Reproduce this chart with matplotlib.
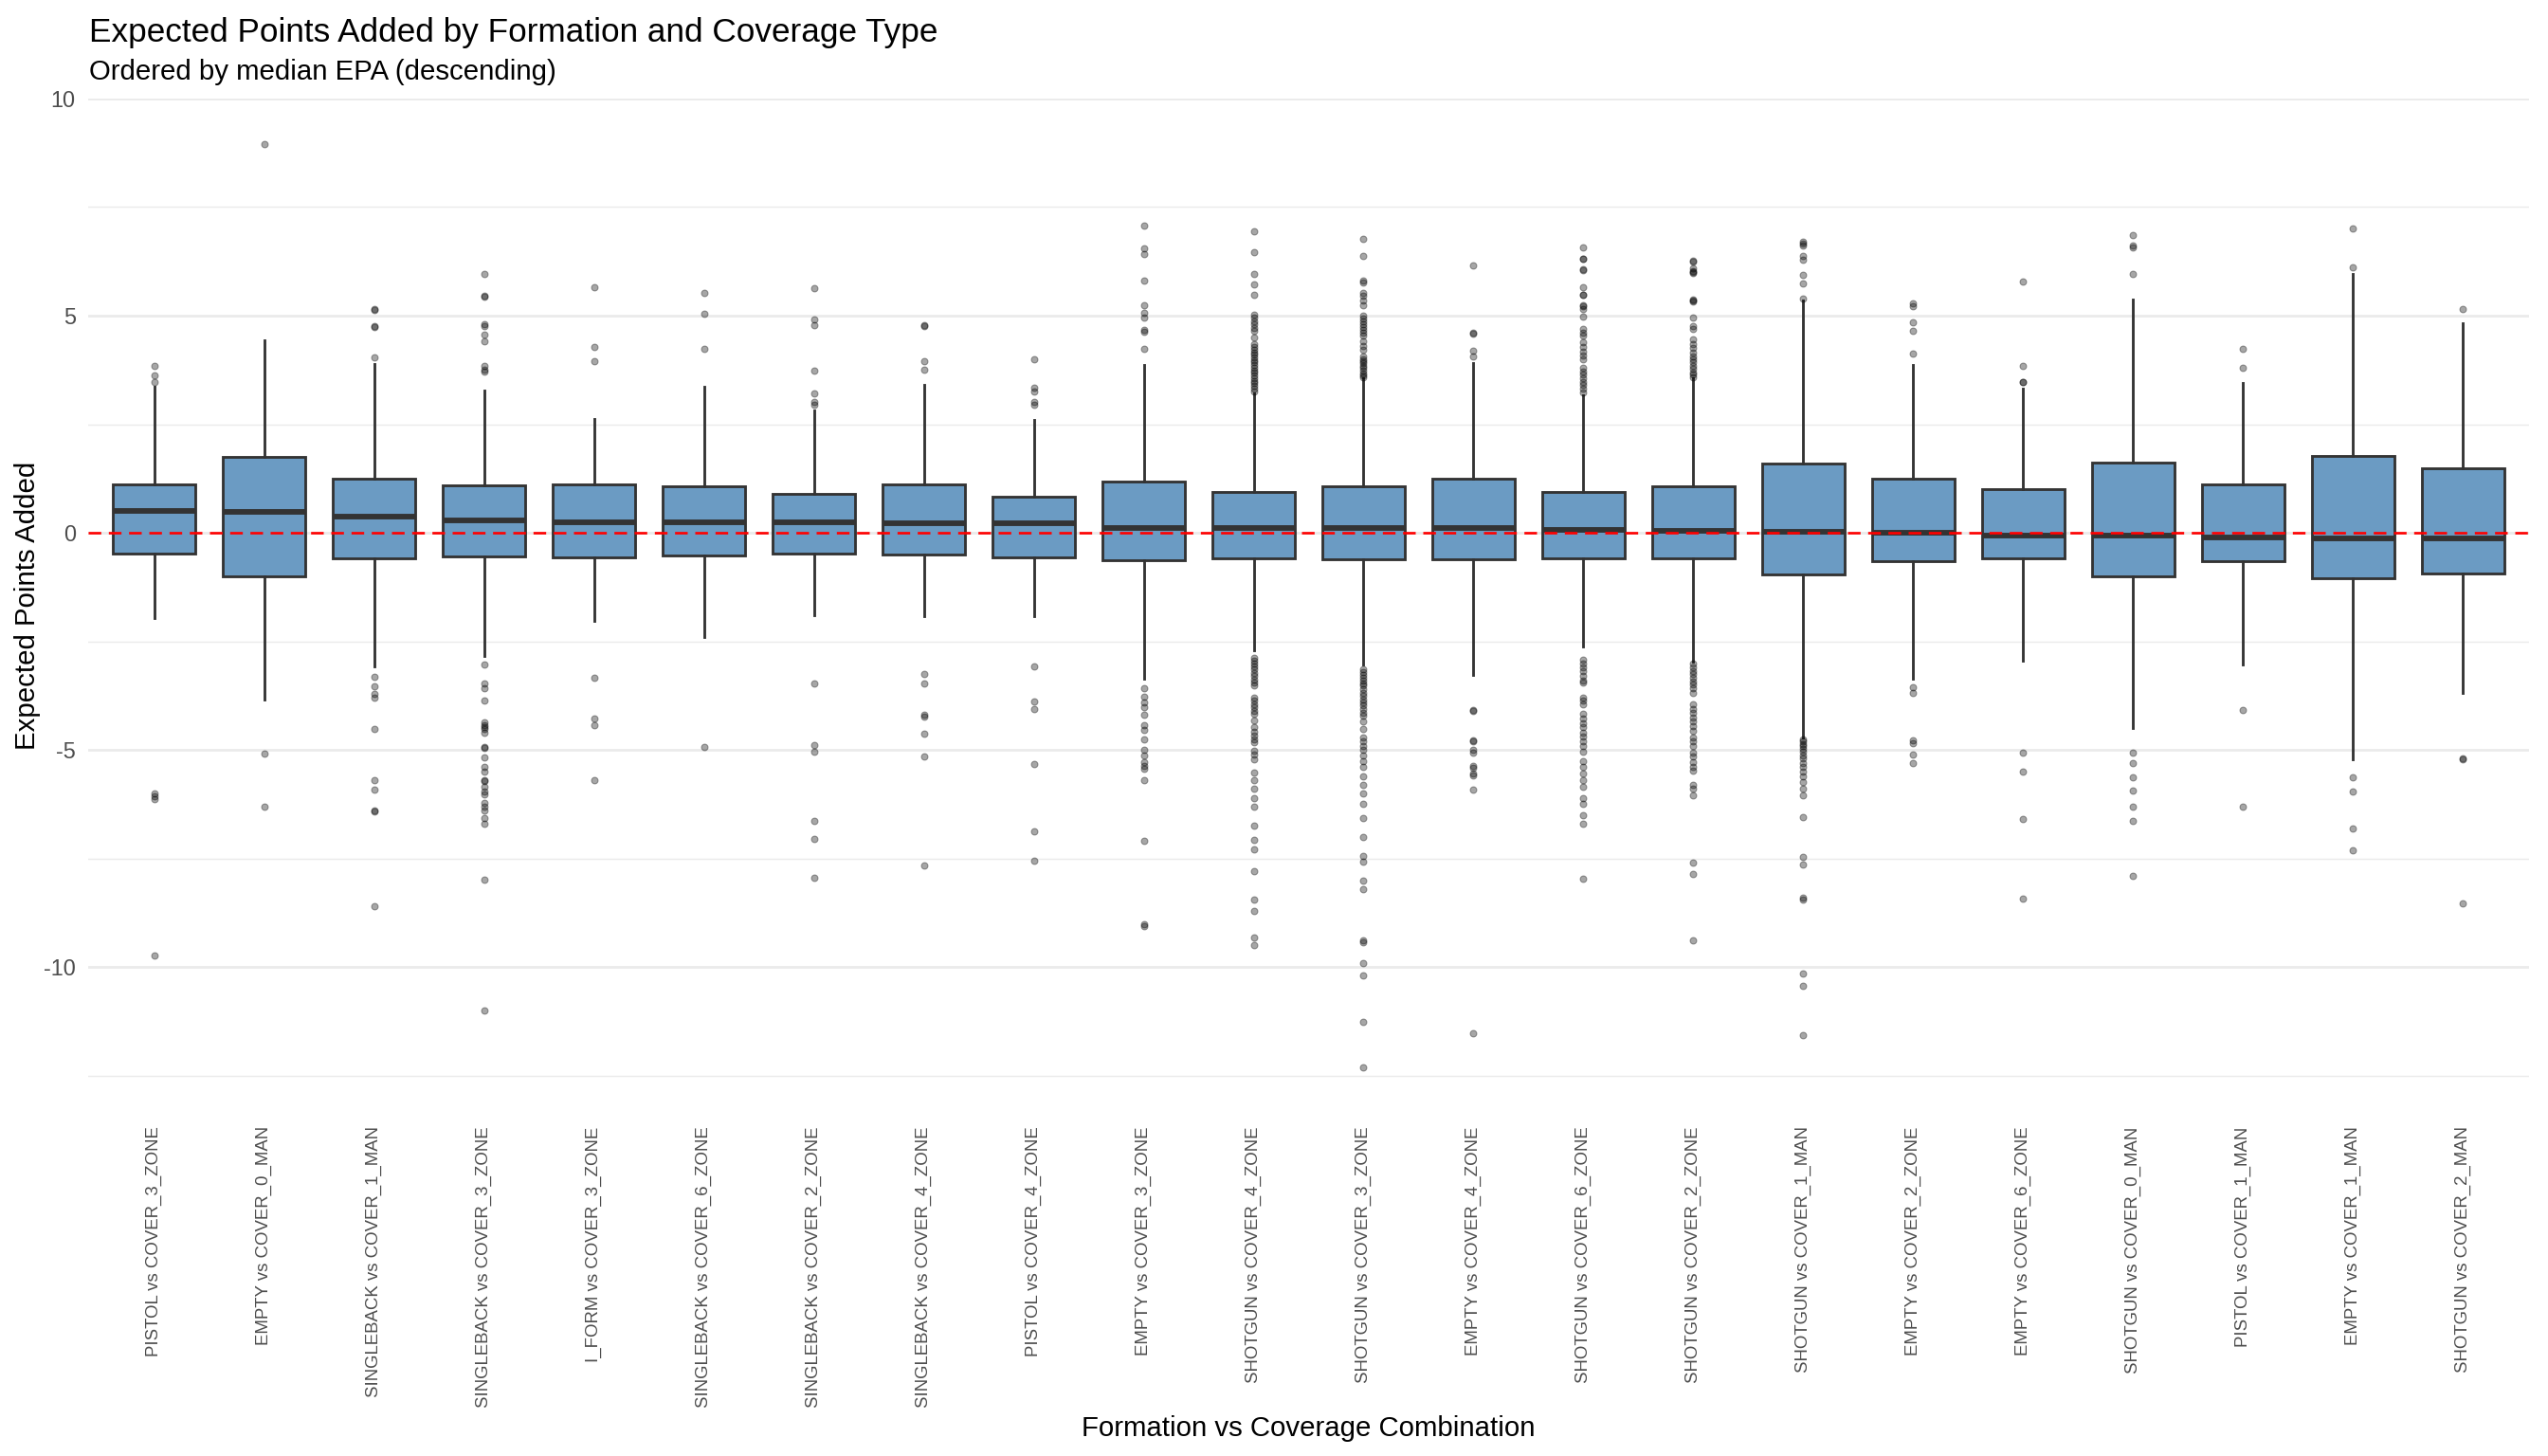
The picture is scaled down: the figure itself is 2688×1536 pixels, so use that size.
import matplotlib
matplotlib.use("Agg")
import matplotlib.pyplot as plt
from matplotlib.ticker import MultipleLocator

plt.rcParams["font.family"] = ["Liberation Sans", "DejaVu Sans"]
plt.rcParams["axes.unicode_minus"] = False

# ---- data ----
categories = [
    "PISTOL vs COVER_3_ZONE", "EMPTY vs COVER_0_MAN", "SINGLEBACK vs COVER_1_MAN",
    "SINGLEBACK vs COVER_3_ZONE", "I_FORM vs COVER_3_ZONE", "SINGLEBACK vs COVER_6_ZONE",
    "SINGLEBACK vs COVER_2_ZONE", "SINGLEBACK vs COVER_4_ZONE", "PISTOL vs COVER_4_ZONE",
    "EMPTY vs COVER_3_ZONE", "SHOTGUN vs COVER_4_ZONE", "SHOTGUN vs COVER_3_ZONE",
    "EMPTY vs COVER_4_ZONE", "SHOTGUN vs COVER_6_ZONE", "SHOTGUN vs COVER_2_ZONE",
    "SHOTGUN vs COVER_1_MAN", "EMPTY vs COVER_2_ZONE", "EMPTY vs COVER_6_ZONE",
    "SHOTGUN vs COVER_0_MAN", "PISTOL vs COVER_1_MAN", "EMPTY vs COVER_1_MAN",
    "SHOTGUN vs COVER_2_MAN",
]

q1 = [-0.48, -1.01, -0.59, -0.55, -0.56, -0.53, -0.48, -0.51, -0.57, -0.64, -0.58,
      -0.61, -0.61, -0.58, -0.58, -0.95, -0.66, -0.59, -1.01, -0.65, -1.04, -0.94]
medians = [0.50, 0.48, 0.38, 0.29, 0.24, 0.24, 0.24, 0.22, 0.21, 0.12, 0.12,
           0.12, 0.12, 0.07, 0.04, 0.03, 0.00, -0.07, -0.07, -0.11, -0.13, -0.13]
q3 = [1.11, 1.75, 1.24, 1.10, 1.12, 1.07, 0.90, 1.11, 0.84, 1.19, 0.94,
      1.08, 1.24, 0.95, 1.08, 1.59, 1.25, 1.01, 1.61, 1.12, 1.77, 1.49]
whisker_low = [-1.97, -3.83, -3.08, -2.83, -2.03, -2.39, -1.90, -1.93, -1.93, -3.37, -2.70,
               -3.04, -3.28, -2.62, -2.97, -4.71, -3.35, -2.95, -4.50, -3.04, -5.21, -3.68]
whisker_high = [3.37, 4.44, 3.88, 3.28, 2.63, 3.37, 2.82, 3.40, 2.60, 3.86, 3.21,
                3.56, 3.91, 3.17, 3.56, 5.36, 3.86, 3.32, 5.37, 3.45, 5.97, 4.83]

outliers = [
    [3.84, 3.63, 3.48, -6.01, -6.06, -6.13, -9.74],
    [8.95, -5.09, -6.31],
    [5.16, 5.13, 4.76, 4.74, 4.04, -3.31, -3.54, -3.70, -3.80, -4.51, -5.70, -5.92,
     -6.40, -6.42, -8.60],
    [5.97, 5.46, 5.44, 4.81, 4.76, 4.57, 4.41, 3.84, 3.75, 3.72, -3.03, -3.47, -3.58,
     -3.87, -4.37, -4.42, -4.47, -4.52, -4.60, -4.93, -4.96, -5.18, -5.39, -5.51,
     -5.70, -5.72, -5.85, -5.95, -6.02, -6.22, -6.30, -6.40, -6.58, -6.71, -7.98, -11.0],
    [5.65, 4.28, 3.95, -3.33, -4.27, -4.42, -5.69],
    [5.53, 5.05, 4.23, -4.93],
    [5.63, 4.92, 4.79, 3.74, 3.20, 3.02, 2.95, -3.48, -4.89, -5.04, -6.64, -7.04, -7.95],
    [4.79, 4.77, 3.95, 3.75, -3.26, -3.48, -4.20, -4.23, -4.63, -5.15, -7.66],
    [4.00, 3.35, 3.25, 3.02, 2.95, -3.08, -3.88, -4.06, -5.32, -6.88, -7.56],
    [7.07, 6.56, 6.41, 5.80, 5.25, 5.07, 4.96, 4.67, 4.62, 4.23, -3.58, -3.78, -3.90,
     -4.02, -4.20, -4.42, -4.54, -4.75, -5.00, -5.12, -5.28, -5.36, -5.44, -5.69,
     -7.10, -9.02, -9.06],
    [6.95, 6.47, 5.95, 5.71, 5.49, 5.02, 4.96, 4.88, 4.80, 4.72, 4.65, 4.50, 4.34,
     4.28, 4.22, 4.15, 4.10, 4.05, 3.98, 3.92, 3.86, 3.80, 3.73, 3.68, 3.62, 3.56,
     3.50, 3.44, 3.38, 3.32, 3.26, -2.87, -2.95, -3.02, -3.08, -3.15, -3.22, -3.30,
     -3.38, -3.45, -3.52, -3.79, -3.86, -3.94, -4.02, -4.10, -4.17, -4.33, -4.48,
     -4.58, -4.68, -4.76, -4.83, -5.02, -5.10, -5.21, -5.52, -5.70, -5.90, -6.10,
     -6.30, -6.74, -7.08, -7.28, -7.79, -8.45, -8.71, -9.31, -9.49],
    [6.76, 6.38, 5.80, 5.76, 5.53, 5.45, 5.36, 5.23, 5.01, 4.94, 4.88, 4.81, 4.74,
     4.67, 4.61, 4.54, 4.41, 4.30, 4.21, 4.07, 4.00, 3.95, 3.90, 3.84, 3.79, 3.73,
     3.67, 3.62, 3.58, -3.14, -3.20, -3.27, -3.33, -3.40, -3.46, -3.52, -3.60, -3.68,
     -3.75, -3.83, -3.90, -3.98, -4.06, -4.14, -4.21, -4.35, -4.52, -4.71, -4.80,
     -4.90, -5.00, -5.13, -5.25, -5.40, -5.60, -5.80, -6.00, -6.25, -6.58, -7.00,
     -7.44, -7.57, -8.00, -8.20, -9.38, -9.42, -9.90, -10.20, -11.26, -12.32],
    [6.16, 4.60, 4.58, 4.20, 4.07, -4.07, -4.10, -4.78, -4.81, -5.00, -5.07, -5.37,
     -5.41, -5.55, -5.58, -5.92, -11.53],
    [6.57, 6.32, 6.31, 6.06, 6.05, 5.66, 5.49, 5.48, 5.23, 5.22, 5.15, 4.97, 4.69,
     4.60, 4.54, 4.38, 4.28, 4.18, 4.08, 4.00, 3.80, 3.72, 3.64, 3.56, 3.48, 3.40,
     3.32, 3.23, -2.93, -3.02, -3.10, -3.18, -3.29, -3.40, -3.45, -3.79, -3.86, -3.94,
     -4.17, -4.28, -4.38, -4.48, -4.60, -4.70, -4.80, -4.90, -5.04, -5.26, -5.40,
     -5.55, -5.70, -5.85, -6.10, -6.24, -6.50, -6.70, -7.97],
    [6.26, 6.25, 6.10, 6.03, 6.00, 5.99, 5.38, 5.35, 5.32, 4.95, 4.75, 4.70, 4.46,
     4.35, 4.25, 4.15, 4.07, 4.00, 3.92, 3.85, 3.77, 3.70, 3.64, 3.58, -3.02, -3.10,
     -3.18, -3.26, -3.34, -3.42, -3.50, -3.58, -3.68, -3.94, -4.05, -4.15, -4.25,
     -4.35, -4.45, -4.56, -4.71, -4.80, -4.90, -5.06, -5.15, -5.28, -5.40, -5.48,
     -5.80, -5.90, -6.05, -7.60, -7.85, -9.38],
    [6.70, 6.67, 6.62, 6.37, 6.28, 5.93, 5.74, 5.40, -4.75, -4.80, -4.86, -4.92,
     -4.98, -5.05, -5.12, -5.20, -5.30, -5.40, -5.50, -5.60, -5.75, -5.90, -6.05,
     -6.55, -7.47, -7.63, -8.40, -8.45, -10.16, -10.43, -11.56],
    [5.28, 5.21, 4.84, 4.66, 4.12, -3.55, -3.69, -4.77, -4.84, -5.10, -5.31],
    [5.79, 3.85, 3.48, 3.47, -5.06, -5.50, -6.60, -8.43],
    [6.85, 6.62, 6.58, 5.95, -5.07, -5.30, -5.63, -5.94, -6.31, -6.63, -7.90],
    [4.24, 3.81, -4.07, -6.31],
    [7.00, 6.12, -5.62, -5.95, -6.80, -7.32],
    [5.16, -5.19, -5.21, -8.54],
]

title = "Expected Points Added by Formation and Coverage Type"
subtitle = "Ordered by median EPA (descending)"
x_title = "Formation vs Coverage Combination"
y_title = "Expected Points Added"

# ---- figure: 14 x 8 in at 192 dpi -> 2688 x 1536 px ----
W, H = 2688, 1536
fig = plt.figure(figsize=(14, 8), dpi=192)
fig.patch.set_facecolor("white")
ax = fig.add_axes([93 / W, 1 - 1175 / H, (2668 - 93) / W, (1175 - 103.5) / H])

stats = []
for i, name in enumerate(categories):
    stats.append({
        "label": name,
        "med": medians[i],
        "q1": q1[i],
        "q3": q3[i],
        "whislo": whisker_low[i],
        "whishi": whisker_high[i],
        "fliers": outliers[i],
    })

positions = list(range(1, len(categories) + 1))
edge = "#333333"
ax.bxp(
    stats,
    positions=positions,
    widths=0.75,
    patch_artist=True,
    showcaps=False,
    boxprops=dict(facecolor="#6B9BC3", edgecolor=edge, linewidth=1.07),
    medianprops=dict(color=edge, linewidth=2.2, solid_capstyle="butt"),
    whiskerprops=dict(color=edge, linewidth=1.07),
    flierprops=dict(marker="o", markersize=2.6, markerfacecolor="black",
                    markeredgecolor="black", markeredgewidth=0.4, alpha=0.35,
                    linestyle="none"),
    zorder=3,
)

ax.axhline(0, color="red", linestyle=(0, (5, 3)), linewidth=1.0, zorder=5)

ax.set_xlim(0.4, len(categories) + 0.6)
ax.set_ylim(-13.38, 10.01)
ax.yaxis.set_major_locator(MultipleLocator(5))
ax.yaxis.set_minor_locator(MultipleLocator(2.5))
ax.set_yticks([-10, -5, 0, 5, 10])
ax.set_yticklabels([str(v) for v in [-10, -5, 0, 5, 10]])
ax.grid(axis="y", which="major", color="#EBEBEB", linewidth=1.07, zorder=0)
ax.grid(axis="y", which="minor", color="#EBEBEB", linewidth=0.55, zorder=0)
ax.grid(axis="x", visible=False)
ax.set_axisbelow(True)

ax.set_xticks(positions)
ax.set_xticklabels(categories, rotation=90, ha="center", va="top",
                   fontsize=7, color="#4D4D4D")
ax.tick_params(axis="both", which="both", length=0)
ax.tick_params(axis="y", labelsize=8.8, labelcolor="#4D4D4D", pad=5)
ax.tick_params(axis="x", pad=5)
for spine in ax.spines.values():
    spine.set_visible(False)

fig.text(94 / W, 1 - 44 / H, title, fontsize=13.2, color="black",
         ha="left", va="baseline")
fig.text(94 / W, 1 - 84 / H, subtitle, fontsize=11, color="black",
         ha="left", va="baseline")
fig.text((93 + 2668) / 2 / W, 15 / H, x_title, fontsize=11, color="black",
         ha="center", va="bottom")
fig.text(15 / W, 1 - 639 / H, y_title, fontsize=11, color="black",
         ha="left", va="center", rotation=90)

fig.savefig("out.png", dpi=192, facecolor="white")
